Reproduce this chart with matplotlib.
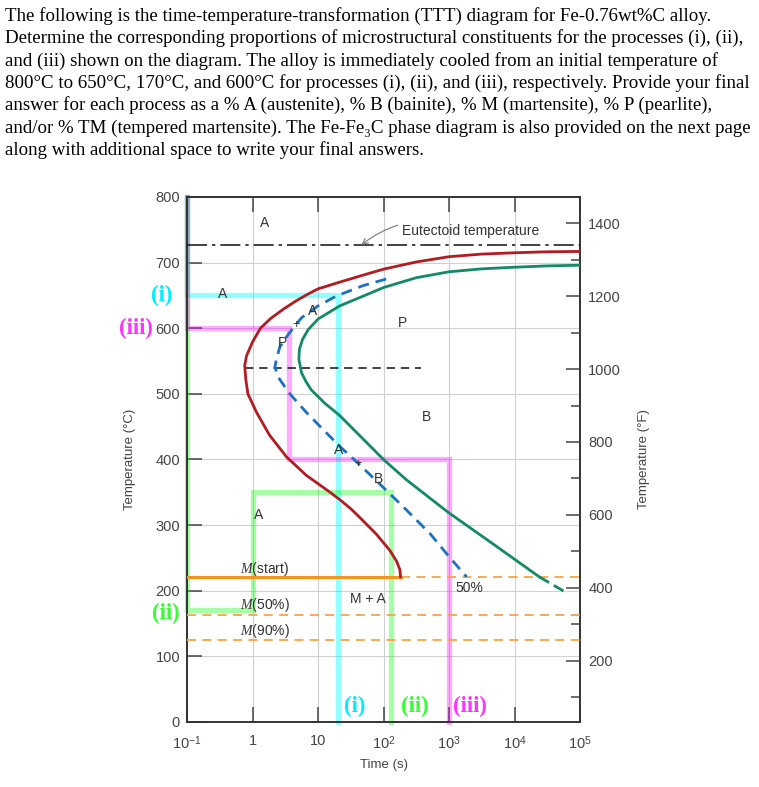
import numpy as np
import matplotlib.pyplot as plt

plt.rcParams['font.family'] = ['Liberation Sans', 'DejaVu Sans']
plt.rcParams['mathtext.fontset'] = 'custom'
plt.rcParams['mathtext.rm'] = 'Liberation Sans'
plt.rcParams['mathtext.it'] = 'Liberation Serif:italic'

question = [
    "The following is the time-temperature-transformation (TTT) diagram for Fe-0.76wt%C alloy.",
    "Determine the corresponding proportions of microstructural constituents for the processes (i), (ii),",
    "and (iii) shown on the diagram. The alloy is immediately cooled from an initial temperature of",
    "800°C to 650°C, 170°C, and 600°C for processes (i), (ii), and (iii), respectively. Provide your final",
    "answer for each process as a % A (austenite), % B (bainite), % M (martensite), % P (pearlite),",
    "and/or % TM (tempered martensite). The Fe-Fe₃C phase diagram is also provided on the next page",
    "along with additional space to write your final answers.",
]

# start of transformation (red)
start_t = [1e5, 31600, 1e4, 3160, 1000, 316, 100, 49, 21, 10, 7.0, 4.5, 2.95, 1.9, 1.32, 1.0,
           0.81, 0.76, 0.79, 0.85, 1.15, 1.82, 3.3, 6.6, 14.8, 21.4, 31.6, 44, 78, 126, 158,
           178, 182]
start_T = [717, 716.5, 715, 713, 709, 701, 690, 681, 670, 660, 652, 641, 629, 615, 600, 579,
           558, 543, 522, 500, 472, 437, 404, 376, 351, 339, 325, 311, 286, 261, 245,
           232, 221]

# end of transformation (green)
end_t = [1e5, 31600, 1e4, 3160, 1000, 316, 100, 49, 21.4, 10, 7.1, 5.8, 5.2, 5.1, 5.6, 6.6,
         7.9, 12.6, 21.4, 49, 100, 224, 955, 4170, 24000]
end_T = [696, 695, 693, 690.5, 686, 677, 662, 649, 634, 614, 598, 583, 568, 553, 532, 518,
         506, 486, 467, 431, 400, 369, 320, 275, 221]
end_dash_t = [24000, 64600]
end_dash_T = [221, 196]

# 50% curve (blue dashed)
half_t = [110, 49, 19, 10, 5.6, 4.0, 3.2, 2.6, 2.3, 2.2, 2.45, 3.1, 3.5, 6.6, 13, 21, 41,
          87, 224, 513, 1020, 1860]
half_T = [675, 665, 649, 634, 616, 598, 585, 571, 551, 541, 526, 511, 503, 472, 442, 421,
          394, 363, 323, 287, 251, 221]

eutectoid_T = 727
nose_T = 540
nose_t = [0.76, 380]
ms_T, m50_T, m90_T = 221, 163, 125
ms_end_t = 182

# cooling paths
proc_i_t = [0.1, 0.1, 20, 20]
proc_i_T = [800, 650, 650, 0]
proc_ii_t = [0.1, 0.1, 1, 1, 130, 130]
proc_ii_T = [800, 170, 170, 350, 350, 0]
proc_iii_t = [0.1, 0.1, 3.6, 3.6, 1000, 1000]
proc_iii_T = [800, 600, 600, 400, 400, 0]

xticks = [0.1, 1, 10, 100, 1000, 1e4, 1e5]
xticklabels = ['$10^{-1}$', '1', '10', '$10^{2}$', '$10^{3}$', '$10^{4}$', '$10^{5}$']

labels = [('A', 1.55, 760, 10), ('A', 0.35, 652, 10), ('A', 8.4, 627, 10), ('P', 2.9, 578, 10),
          ('+', 4.6, 605, 9), ('P', 195, 608, 10), ('B', 460, 465, 10), ('A', 1.26, 315, 10),
          ('A', 20.5, 415, 10), ('+', 41, 393, 9), ('B', 83, 370, 10), ('M + A', 58, 187, 10),
          ('50%', 2050, 204, 10), ('$M$(start)', 1.55, 233, 10), ('$M$(50%)', 1.55, 178, 10),
          ('$M$(90%)', 1.55, 139, 10)]

cyan, lgreen, pink = '#00ecff', '#33ff33', '#ff33ff'
gray = '#444444'

fig = plt.figure(figsize=(7.59, 7.87), dpi=100)
for i, line in enumerate(question):
    fig.text(0.007, 1 - (20.7 + 22.4 * i) / 787, line, fontsize=13.6, va='baseline',
             family=['Liberation Serif', 'DejaVu Serif'])

ax = fig.add_axes([0.2464, 0.0826, 0.5178, 0.6671])
ax.set_xscale('log')
ax.set_xlim(0.1, 1e5)
ax.set_ylim(0, 800)

# cooling paths
ax.plot(proc_i_t, proc_i_T, color='#00ffff', alpha=0.42, lw=3.8, clip_on=False, zorder=2,
        solid_joinstyle='miter')
ax.plot(proc_ii_t, proc_ii_T, color='#00ff00', alpha=0.35, lw=3.8, clip_on=False, zorder=2,
        solid_joinstyle='miter')
ax.plot(proc_iii_t, proc_iii_T, color='#ff00ff', alpha=0.33, lw=3.8, clip_on=False, zorder=2,
        solid_joinstyle='miter')

ax.axhline(eutectoid_T, color='#222222', lw=1.2, dashes=(12, 3, 2, 3), zorder=3)
ax.plot(nose_t, [nose_T, nose_T], color='#222222', lw=1.2, dashes=(5, 3.5), zorder=3)

ax.plot([0.1, ms_end_t], [ms_T, ms_T], color='#f7931e', lw=2.2, zorder=3)
ax.plot([ms_end_t, 1e5], [ms_T, ms_T], color='#f8a24a', lw=1.3, dashes=(5, 3.5), zorder=3)
ax.axhline(m50_T, color='#f8a24a', lw=1.3, dashes=(5, 3.5), zorder=3)
ax.axhline(m90_T, color='#f8a24a', lw=1.3, dashes=(5, 3.5), zorder=3)

ax.plot(start_t, start_T, color='#b31b22', lw=2.0, zorder=4, solid_joinstyle='round')
ax.plot(end_t, end_T, color='#138a66', lw=2.0, zorder=4, solid_joinstyle='round')
ax.plot(end_dash_t, end_dash_T, color='#138a66', lw=2.0, dashes=(4, 2), zorder=4)
ax.plot(half_t, half_T, color='#1a72c2', lw=2.0, dashes=(4, 2.5), zorder=4)

for txt, t, T, fs in labels:
    ax.text(t, T, txt, fontsize=fs, color='#333333', ha='center', va='center', zorder=5)

ax.annotate('Eutectoid temperature', xy=(46, 727), xytext=(190, 748), fontsize=10,
            color='#333333', va='center', ha='left',
            arrowprops=dict(arrowstyle='->', color='#777777', lw=0.8,
                            connectionstyle='arc3,rad=0.3', shrinkA=1, shrinkB=0))

# process tags
yt = ax.get_yaxis_transform()
serif_b = dict(family=['Liberation Serif', 'DejaVu Serif'], fontweight='bold', fontsize=16.5)
ax.text(-0.064, 650, '(i)', color=cyan, ha='center', va='center', transform=yt, **serif_b)
ax.text(-0.087, 600, '(iii)', color=pink, ha='right', va='center', transform=yt, **serif_b)
ax.text(-0.054, 165, '(ii)', color=lgreen, ha='center', va='center', transform=yt, **serif_b)
ax.text(36, 24, '(i)', color=cyan, ha='center', va='center', **serif_b)
ax.text(300, 24, '(ii)', color=lgreen, ha='center', va='center', **serif_b)
ax.text(2050, 24, '(iii)', color=pink, ha='center', va='center', **serif_b)

ax.set_xticks(xticks)
ax.set_xticklabels(xticklabels)
ax.minorticks_off()
ax.set_yticks(np.arange(0, 801, 100))
ax.grid(True, color='#d0d0d0', lw=0.8)
ax.set_axisbelow(True)
ax.tick_params(direction='in', length=11, width=1.1, color=gray, labelcolor=gray,
               labelsize=10.5, top=True, pad=5)
ax.tick_params(axis='x', pad=8.5)
for s in ax.spines.values():
    s.set_color('#333333')
    s.set_linewidth(1.4)
ax.set_ylabel('Temperature (°C)', fontsize=9.5, color=gray, labelpad=14)
ax.set_xlabel('Time (s)', fontsize=9.5, color=gray, labelpad=5)

ax2 = ax.twinx()
ax2.set_ylim(32, 800 * 9 / 5 + 32)
ax2.set_yticks(np.arange(200, 1401, 200))
ax2.set_yticks(np.arange(100, 1401, 100), minor=True)
ax2.tick_params(which='major', direction='in', length=10, width=1.1, color=gray,
                labelcolor=gray, labelsize=10.5, pad=6)
ax2.tick_params(which='minor', direction='in', length=6.5, width=1.1, color=gray)
for s in ax2.spines.values():
    s.set_visible(False)
ax2.set_ylabel('Temperature (°F)', fontsize=9.5, color=gray, labelpad=12)

fig.savefig('out.png', dpi=100)
